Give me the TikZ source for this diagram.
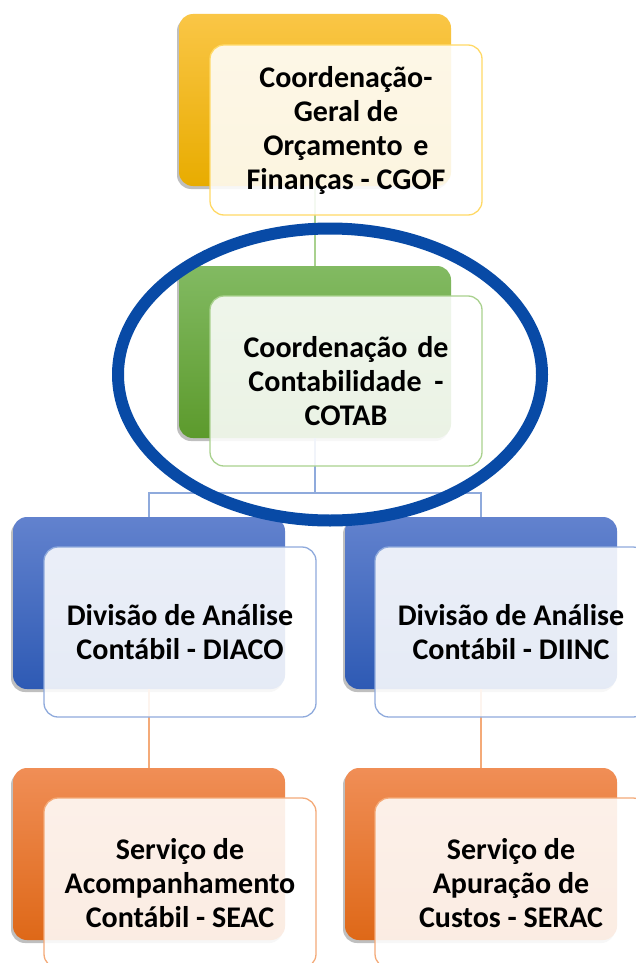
\documentclass[tikz,border=0pt]{standalone}
\usepackage{fontspec}
\setmainfont{Carlito}
\usetikzlibrary{shadows}
\definecolor{ylT}{RGB}{250,198,70}\definecolor{ylM}{RGB}{255,192,0}\definecolor{ylB}{RGB}{232,172,0}
\definecolor{grT}{RGB}{130,186,98}\definecolor{grM}{RGB}{112,173,71}\definecolor{grB}{RGB}{92,154,44}
\definecolor{blT}{RGB}{98,130,206}\definecolor{blM}{RGB}{68,114,196}\definecolor{blB}{RGB}{46,90,180}
\definecolor{orT}{RGB}{240,142,86}\definecolor{orM}{RGB}{237,125,49}\definecolor{orB}{RGB}{222,104,24}
\definecolor{ylL}{RGB}{255,217,102}\definecolor{grL}{RGB}{169,209,142}
\definecolor{blL}{RGB}{143,170,220}\definecolor{orL}{RGB}{244,170,120}
\definecolor{ringblue}{RGB}{8,74,166}
\tikzset{
  backbox/.style={rectangle, rounded corners=14pt, minimum width=272pt, minimum height=172pt, inner sep=0pt,
    drop shadow={shadow xshift=-2pt, shadow yshift=-3pt, opacity=0.25, fill=black}},
  frontbox/.style={rectangle, rounded corners=14pt, minimum width=272pt, minimum height=170pt, inner sep=0pt,
    fill=white, fill opacity=0.88, text opacity=1, line width=1.3pt, align=center,
    font=\bfseries\fontsize{30}{34}\selectfont},
  ylback/.style={backbox, top color=ylT, middle color=ylM, bottom color=ylB},
  grback/.style={backbox, top color=grT, middle color=grM, bottom color=grB},
  blback/.style={backbox, top color=blT, middle color=blM, bottom color=blB},
  orback/.style={backbox, top color=orT, middle color=orM, bottom color=orB},
  link/.style={line width=1.2pt},
}
\begin{document}
\begin{tikzpicture}[x=1pt,y=-1pt]
\useasboundingbox (0,0) rectangle (636,963);
\fill[white] (0,0) rectangle (636,963);
% back boxes
\node[ylback] (yb) at (315,100) {};
\node[grback] (gb) at (315,352) {};
\node[blback] (blb) at (149,603) {};
\node[blback] (brb) at (481,603) {};
\node[orback] (olb) at (149,854) {};
\node[orback] (orb) at (481,854) {};
% connectors
\coordinate (bj) at (315,493);
\draw[link, draw=grL] (yb.south) -- (gb.north);
\draw[link, draw=blL] (gb.south) -- (bj);
\draw[link, draw=blL] (blb.north) -- (blb.north |- bj) -- (brb.north |- bj) -- (brb.north);
\draw[link, draw=orL] (blb.south) -- (olb.north);
\draw[link, draw=orL] (brb.south) -- (orb.north);
% front boxes
\node[frontbox, draw=ylL] (yf) at (346,130) {Coordenação-\\Geral de\\Orçamento\hspace{4pt} e\\Finanças - CGOF};
\node[frontbox, draw=grL] (gf) at (346,381) {Coordenação\hspace{3pt} de\\Contabilidade\hspace{6pt} -\\COTAB};
\node[frontbox, draw=blL] (blf) at (180,632) {Divisão de Análise\\Contábil - DIACO};
\node[frontbox, draw=blL] (brf) at (511,632) {Divisão de Análise\\Contábil - DIINC};
\node[frontbox, draw=orL] (olf) at (180,883) {Serviço de\\Acompanhamento\\Contábil - SEAC};
\node[frontbox, draw=orL] (orf) at (511,883) {Serviço de\\Apuração de\\Custos - SERAC};
% highlight ring
\draw[ringblue, line width=12pt] (330,374.5) ellipse [x radius=212pt, y radius=146pt];
\end{tikzpicture}
\end{document}
